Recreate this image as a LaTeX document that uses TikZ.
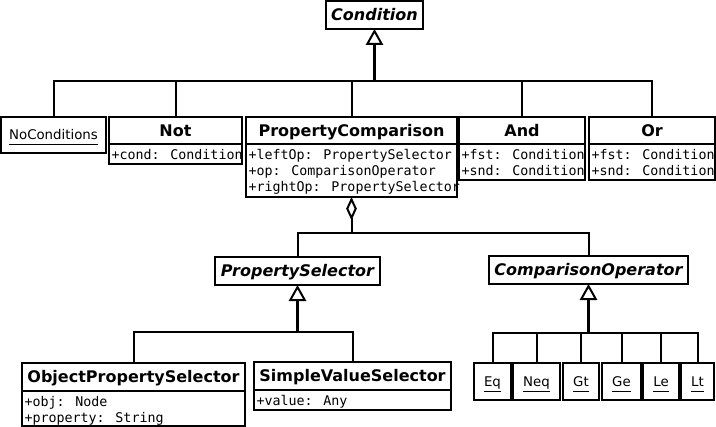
\documentclass[tikz,border=0pt]{standalone}
\usepackage{fontspec}
\setmainfont{DejaVu Sans}
\newfontfamily\monof{DejaVu Sans Mono}
\usetikzlibrary{arrows.meta}
\newcommand\uu{0.75pt}
\newcommand\ulx[1]{\underline{#1\vphantom{q}}}
\tikzset{
  box/.style={draw, line width=1.5pt, inner sep=0pt, outer sep=0pt, anchor=north west, fill=white},
  ttl/.style={box, font=\fontsize{12}{14}\selectfont\bfseries, text height=8.75pt, text depth=0pt},
  abox/.style={box},
  atxt/.style={anchor=north west, inner sep=0pt, outer sep=0pt, font=\monof\fontsize{10}{12}\selectfont, align=left},
  lbl/.style={box, font=\fontsize{10}{12}\selectfont, text height=7.3pt, text depth=0pt},
  conn/.style={line width=1.5pt},
  stem/.style={line width=2.25pt, -{Triangle[open, line width=1.5pt, length=12pt, width=13pt]}},
  agg/.style={line width=1.5pt, {Diamond[open, line width=1.5pt, length=17.5pt, width=8pt]}-},
}
\begin{document}
\begin{tikzpicture}[x=0.75pt, y=-0.75pt]
\useasboundingbox (0,0) rectangle (716,427);

% top level
\node[ttl, minimum width=97*\uu, minimum height=28*\uu] (cond) at (326,1) {\itshape Condition};

\node[lbl, minimum width=105*\uu, minimum height=36*\uu] (noc) at (1,117) {\ulx{NoConditions}};

\node[ttl, minimum width=133*\uu, minimum height=27*\uu] (not) at (109,117) {Not};
\node[abox, minimum width=133*\uu, minimum height=20*\uu] (notA) at (not.south west) {};
\node[atxt] (notT) at ([shift={(2.5,5.5)}]notA.north west) {+cond: Condition};

\node[ttl, minimum width=211*\uu, minimum height=27*\uu] (pc) at (246,117) {PropertyComparison};
\node[abox, minimum width=211*\uu, minimum height=53*\uu] (pcA) at (pc.south west) {};
\node[atxt] (pcT) at ([shift={(2.5,5.5)}]pcA.north west) {+leftOp: PropertySelector\\+op: ComparisonOperator\\+rightOp: PropertySelector};

\node[ttl, minimum width=126*\uu, minimum height=27*\uu] (and) at (459,117) {And};
\node[abox, minimum width=126*\uu, minimum height=36*\uu] (andA) at (and.south west) {};
\node[atxt] (andT) at ([shift={(2.5,5.5)}]andA.north west) {+fst: Condition\\+snd: Condition};

\node[ttl, minimum width=126*\uu, minimum height=27*\uu] (or) at (589,117) {Or};
\node[abox, minimum width=126*\uu, minimum height=36*\uu] (orA) at (or.south west) {};
\node[atxt] (orT) at ([shift={(2.5,5.5)}]orA.north west) {+fst: Condition\\+snd: Condition};

% middle level
\node[ttl, minimum width=165*\uu, minimum height=28*\uu] (ps) at (215,257) {\itshape PropertySelector};
\node[ttl, minimum width=199*\uu, minimum height=28*\uu] (co) at (489,256) {\itshape ComparisonOperator};

% bottom level
\node[ttl, minimum width=223*\uu, minimum height=28*\uu] (ops) at (22,363) {ObjectPropertySelector};
\node[abox, minimum width=223*\uu, minimum height=35*\uu] (opsA) at (ops.south west) {};
\node[atxt] (opsT) at ([shift={(2.5,5.5)}]opsA.north west) {+obj: Node\\+property: String};

\node[ttl, minimum width=197*\uu, minimum height=28*\uu] (svs) at (254,362) {SimpleValueSelector};
\node[abox, minimum width=197*\uu, minimum height=20*\uu] (svsA) at (svs.south west) {};
\node[atxt] (svsT) at ([shift={(2.5,5.5)}]svsA.north west) {+value: Any};

\node[lbl, minimum width=37*\uu, minimum height=37*\uu] (eq) at (474,363) {\ulx{Eq}};
\node[lbl, minimum width=47*\uu, minimum height=37*\uu] (neq) at (513,363) {\ulx{Neq}};
\node[lbl, minimum width=36*\uu, minimum height=37*\uu] (gt) at (563,363) {\ulx{Gt}};
\node[lbl, minimum width=39*\uu, minimum height=37*\uu] (ge) at (602,363) {\ulx{Ge}};
\node[lbl, minimum width=36*\uu, minimum height=37*\uu] (le) at (643,363) {\ulx{Le}};
\node[lbl, minimum width=33*\uu, minimum height=37*\uu] (lt) at (681,363) {\ulx{Lt}};

% Condition hierarchy
\path (cond.south) ++(0,52) coordinate (cbar);
\draw[conn] (noc.north) |- (cbar);
\draw[conn] (not.north) |- (cbar);
\draw[conn] (pc.north) |- (cbar);
\draw[conn] (and.north) |- (cbar);
\draw[conn] (or.north) |- (cbar);
\draw[stem] (cbar) -- (cond.south);

% aggregation
\path (pcA.south) ++(0,36) coordinate (abar);
\draw[agg] (pcA.south) -- (abar);
\draw[conn] (abar) -| (ps.north);
\draw[conn] (abar) -| (co.north);

% PropertySelector hierarchy
\path (ps.south) ++(0,47) coordinate (psbar);
\draw[conn] (ops.north) |- (psbar);
\draw[conn] (svs.north) |- (psbar);
\draw[stem] (psbar) -- (ps.south);

% ComparisonOperator hierarchy
\path (co.south) ++(0,49) coordinate (cobar);
\draw[conn] (eq.north) |- (cobar);
\draw[conn] (neq.north) |- (cobar);
\draw[conn] (gt.north) |- (cobar);
\draw[conn] (ge.north) |- (cobar);
\draw[conn] (le.north) |- (cobar);
\draw[conn] (lt.north) |- (cobar);
\draw[stem] (cobar) -- (co.south);
\end{tikzpicture}
\end{document}
